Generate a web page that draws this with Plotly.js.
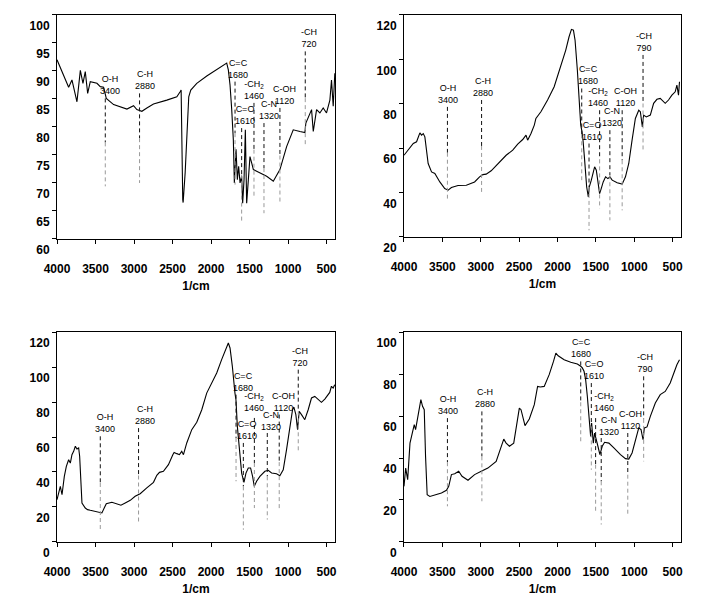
<!DOCTYPE html>
<html>
<head>
<meta charset="utf-8">
<script src="https://cdn.plot.ly/plotly-3.0.1.min.js"></script>
<style>html,body{margin:0;padding:0;background:#fff;}#chart{width:710px;height:607px;}</style>
</head>
<body>
<div id="chart"></div>
<script>
// ---- Spectrum data (wavenumber, transmittance) ----
const wn1 = [4000,3849,3806,3741,3697,3663,3633,3602,3568,3481,3438,3395,3360,3265,3092,3006,2963,2898,2833,2747,2574,2444,2401,2388,2367,2362,2336,2315,2289,2263,2185,2055,1926,1840,1796,1775,1753,1731,1710,1697,1675,1658,1641,1623,1602,1589,1571,1554,1537,1515,1494,1472,1450,1407,1321,1277,1191,1105,1018,932,845,781,768,737,694,672,629,586,543,500,456,435,413,392];
const t1  = [92.0,87.1,88.4,84.5,90.1,87.8,89.9,86.0,88.1,87.8,87.2,87.1,85.1,84.0,83.2,83.8,83.1,82.8,83.4,84.1,84.8,85.4,86.3,86.6,67.0,66.5,71.8,78.9,85.4,86.6,87.8,89.1,90.2,90.9,91.4,90.2,87.5,83.1,77.7,70.0,76.0,70.6,73.0,70.0,71.2,66.4,70.6,79.5,66.4,70.6,74.7,73.6,72.4,72.1,71.5,71.2,70.3,72.4,76.5,79.5,79.2,79.0,80.7,81.6,83.1,79.2,83.1,82.5,83.4,82.5,84.8,88.4,83.7,89.6];

const wn2 = [4000,3965,3922,3879,3836,3814,3793,3771,3749,3728,3706,3685,3641,3598,3533,3469,3425,3382,3296,3188,3080,3015,2972,2929,2864,2777,2669,2583,2518,2453,2410,2389,2345,2302,2281,2216,2129,2043,1957,1892,1849,1818,1792,1771,1741,1719,1697,1680,1667,1646,1620,1598,1585,1559,1533,1516,1494,1473,1451,1430,1404,1373,1343,1317,1287,1222,1157,1114,1071,1028,985,941,920,894,877,842,790,747,704,661,596,553,509,466,444,423,410];
const t2  = [56.8,58.3,60.6,62.1,62.9,65.1,66.9,65.9,66.6,65.1,59.1,53.1,49.3,48.6,44.8,41.8,41.1,42.3,43.2,43.3,44.8,47.1,48.1,48.3,49.8,53.1,56.8,59.1,61.8,63.9,65.9,63.6,66.6,70.4,73.4,76.4,81.7,87.7,96.7,104.2,110.2,113.5,113.2,108.7,95.2,81.7,70.4,67.4,63.6,54.6,42.6,38.0,42.6,45.6,48.6,51.6,50.1,44.1,39.5,41.8,44.8,47.1,46.3,47.1,45.6,44.4,43.8,47.1,53.1,63.6,73.4,77.1,76.4,69.6,74.9,74.1,74.9,80.2,82.0,82.4,80.2,81.7,83.9,85.4,88.4,83.9,89.9];

const wn3 = [4000,3978,3957,3935,3905,3879,3849,3827,3806,3784,3762,3741,3719,3706,3689,3676,3633,3603,3568,3503,3438,3417,3387,3360,3287,3222,3170,3114,3049,2985,2920,2834,2747,2704,2669,2618,2553,2496,2479,2444,2410,2380,2358,2315,2250,2185,2120,2056,1991,1926,1862,1805,1775,1753,1723,1689,1676,1658,1632,1602,1572,1546,1516,1486,1460,1438,1408,1365,1300,1257,1213,1149,1106,1062,1019,976,941,924,898,876,855,825,782,738,695,652,609,566,522,479,458,436,414,393];
const t3  = [24.2,28.0,31.8,27.0,37.5,43.2,47.0,45.1,49.9,51.8,54.7,53.1,53.7,49.0,29.9,22.3,19.4,18.5,18.1,17.3,16.6,16.6,19.4,21.9,22.7,21.9,21.0,22.3,23.8,26.1,27.6,30.9,34.1,38.1,39.8,40.4,44.2,49.9,51.2,50.5,49.9,51.8,49.9,56.6,64.2,68.4,75.6,85.1,90.9,96.6,104.2,111.2,113.7,110.9,100.4,85.1,81.3,66.1,52.8,39.4,34.1,39.4,42.3,42.3,37.5,31.8,34.7,37.5,40.4,41.0,39.4,39.0,37.9,41.3,52.8,66.1,75.6,77.1,72.8,64.2,74.7,72.8,69.9,75.6,82.3,83.2,81.3,79.8,81.7,84.2,85.5,89.0,88.0,89.9];

const wn4 = [4000,3978,3952,3922,3892,3866,3849,3827,3801,3780,3758,3736,3719,3698,3663,3598,3512,3447,3417,3382,3339,3287,3244,3166,3080,2993,2907,2799,2734,2700,2669,2626,2570,2531,2497,2475,2440,2423,2367,2302,2259,2224,2173,2108,2052,2021,1991,1913,1827,1741,1697,1676,1654,1633,1611,1589,1568,1555,1533,1516,1498,1473,1447,1417,1386,1330,1265,1179,1114,1071,1028,985,941,911,885,868,833,790,725,661,596,531,488,444,410];
const t4  = [26.5,35.2,29.7,47.1,51.9,55.9,53.5,57.5,63.0,67.8,64.6,63.0,40.8,22.5,21.7,22.5,23.3,24.6,26.5,32.1,32.5,33.7,31.3,29.4,32.1,33.7,35.2,38.4,44.8,49.0,47.1,45.6,47.1,55.1,63.8,63.0,57.5,55.4,58.6,65.4,74.1,73.8,74.1,79.7,86.0,90.0,88.7,86.8,85.6,84.8,83.7,82.9,81.3,77.3,69.4,60.6,50.3,56.7,47.1,51.9,48.7,45.6,41.6,45.6,47.5,47.1,44.8,41.6,39.7,39.5,42.4,48.7,54.3,53.5,48.7,54.3,54.8,59.8,66.2,70.2,71.7,75.7,80.5,84.4,86.8];

// ---- Peak assignments ----
const peakNames = ["O-H","C-H","C=C","C=O","-CH<sub>2</sub>","C-N","C-OH","-CH"];
const peakText1 = ["3400","2880","1680","1610","1460","1320","1120","720"];
const peakText2 = ["3400","2880","1680","1610","1460","1320","1120","790"];
const peakText3 = ["3400","2880","1680","1610","1460","1320","1120","720"];
const peakText4 = ["3400","2880","1680","1610","1460","1320","1120","790"];
const peakX1 = [3373,2928,1688,1602,1442,1312,1105,776];
const peakTop1 = [85.1,86.0,88.1,79.8,84.3,80.7,83.4,93.5];
const peakBot1 = [69.4,70.0,69.7,63.2,67.6,64.6,66.4,76.8];
const peakX2 = [3434,2989,1684,1589,1451,1317,1157,885];
const peakTop2 = [78.6,81.7,86.9,62.1,77.1,68.1,77.1,102.0];
const peakBot2 = [37.3,40.3,45.6,23.0,32.8,27.5,32.0,58.3];
const peakX3 = [3438,2941,1675,1580,1437,1269,1114,867];
const peakTop3 = [60.4,65.1,84.2,56.6,70.9,62.3,72.8,98.5];
const peakBot3 = [7.0,10.9,34.7,7.0,19.4,12.8,18.5,50.9];
const peakX4 = [3434,2985,1697,1559,1503,1430,1084,877];
const peakTop4 = [59.0,62.2,86.0,75.7,59.0,49.5,51.9,78.9];
const peakBot4 = [17.0,19.4,47.1,34.4,14.6,8.3,12.2,38.4];

const yRanges = [[60,100],[20,120],[0,120],[0,100]];
const yDticks = [5,20,20,20];
const xTicks = [4000,3500,3000,2500,2000,1500,1000,500];
const xTitle = "1/cm";

// label nudges (px), style only
const labelShiftX = [
  [5,5,3,3,0,5,5,4],
  [1,1,6,3,-2,2,3,1],
  [5,6,7,4,0,4,4,2],
  [1,3,0,3,8,8,3,1]
];
const labelShiftY = [
  [0,0,0,0,0,0,0,0],
  [0,0,0,0,0,0,0,0],
  [0,0,0,0,3,-1,0,0],
  [0,0,0,0,3,-1,0,0]
];

const spectra = [[wn1,t1],[wn2,t2],[wn3,t3],[wn4,t4]];
const peaks = [
  [peakX1,peakTop1,peakBot1,peakText1],
  [peakX2,peakTop2,peakBot2,peakText2],
  [peakX3,peakTop3,peakBot3,peakText3],
  [peakX4,peakTop4,peakBot4,peakText4]
];

const labelFont = {family:'Liberation Sans, Arial, sans-serif', size:9, color:'#000'};
const traces = [];
const annotations = [];
spectra.forEach((s,i)=>{
  const xa = i===0?'x':'x'+(i+1);
  const ya = i===0?'y':'y'+(i+1);
  traces.push({x:s[0], y:s[1], xaxis:xa, yaxis:ya, mode:'lines', line:{color:'#000', width:1.1}, hoverinfo:'skip', showlegend:false});
  const p = peaks[i];
  p[0].forEach((px,k)=>{
    const mid = (p[1][k]+p[2][k])/2;
    traces.push({x:[px,px], y:[p[1][k],mid], xaxis:xa, yaxis:ya, mode:'lines', line:{color:'#111', width:1, dash:'4px,3px'}, hoverinfo:'skip', showlegend:false});
    traces.push({x:[px,px], y:[mid,p[2][k]], xaxis:xa, yaxis:ya, mode:'lines', line:{color:'#999', width:1, dash:'4px,3px'}, hoverinfo:'skip', showlegend:false});
    annotations.push({x:px, y:p[1][k], xref:xa, yref:ya, text:peakNames[k]+'<br>'+p[3][k], showarrow:false,
      xanchor:'center', yanchor:'bottom', xshift:labelShiftX[i][k], yshift:labelShiftY[i][k], font:labelFont, align:'center'});
  });
});

const tickFont = {family:'Liberation Sans, Arial, sans-serif', size:12, color:'#000', weight:'bold'};
const xDomains = [[0.0803,0.4718],[0.569,0.9592],[0.0803,0.4718],[0.569,0.9592]];
const yDomains = [[0.6063,0.9753],[0.6096,0.9753],[0.1071,0.453],[0.1071,0.453]];

const layout = {
  width:710, height:607,
  margin:{l:0,r:0,t:0,b:0},
  paper_bgcolor:'#fff', plot_bgcolor:'#fff',
  showlegend:false,
  annotations:annotations
};
for(let i=0;i<4;i++){
  const xk = i===0?'xaxis':'xaxis'+(i+1);
  const yk = i===0?'yaxis':'yaxis'+(i+1);
  const yr = i===0?'y':'y'+(i+1);
  const xr = i===0?'x':'x'+(i+1);
  layout[xk] = {domain:xDomains[i], anchor:yr, range:[4000,390], tickmode:'array', tickvals:xTicks,
    showline:true, mirror:true, linecolor:'#000', linewidth:1, ticks:'outside', ticklen:4, tickcolor:'#000',
    showgrid:false, zeroline:false, tickfont:tickFont, ticklabelstandoff:15,
    title:{text:xTitle, font:tickFont, standoff:6}};
  layout[yk] = {domain:yDomains[i], anchor:xr, range:yRanges[i], dtick:yDticks[i], tick0:0,
    showline:true, mirror:true, linecolor:'#000', linewidth:1, ticks:'outside', ticklen:4, tickcolor:'#000',
    showgrid:false, zeroline:false, tickfont:tickFont, ticklabelshift:11};
}

Plotly.newPlot('chart', traces, layout, {staticPlot:true, displayModeBar:false});
</script>
</body>
</html>
